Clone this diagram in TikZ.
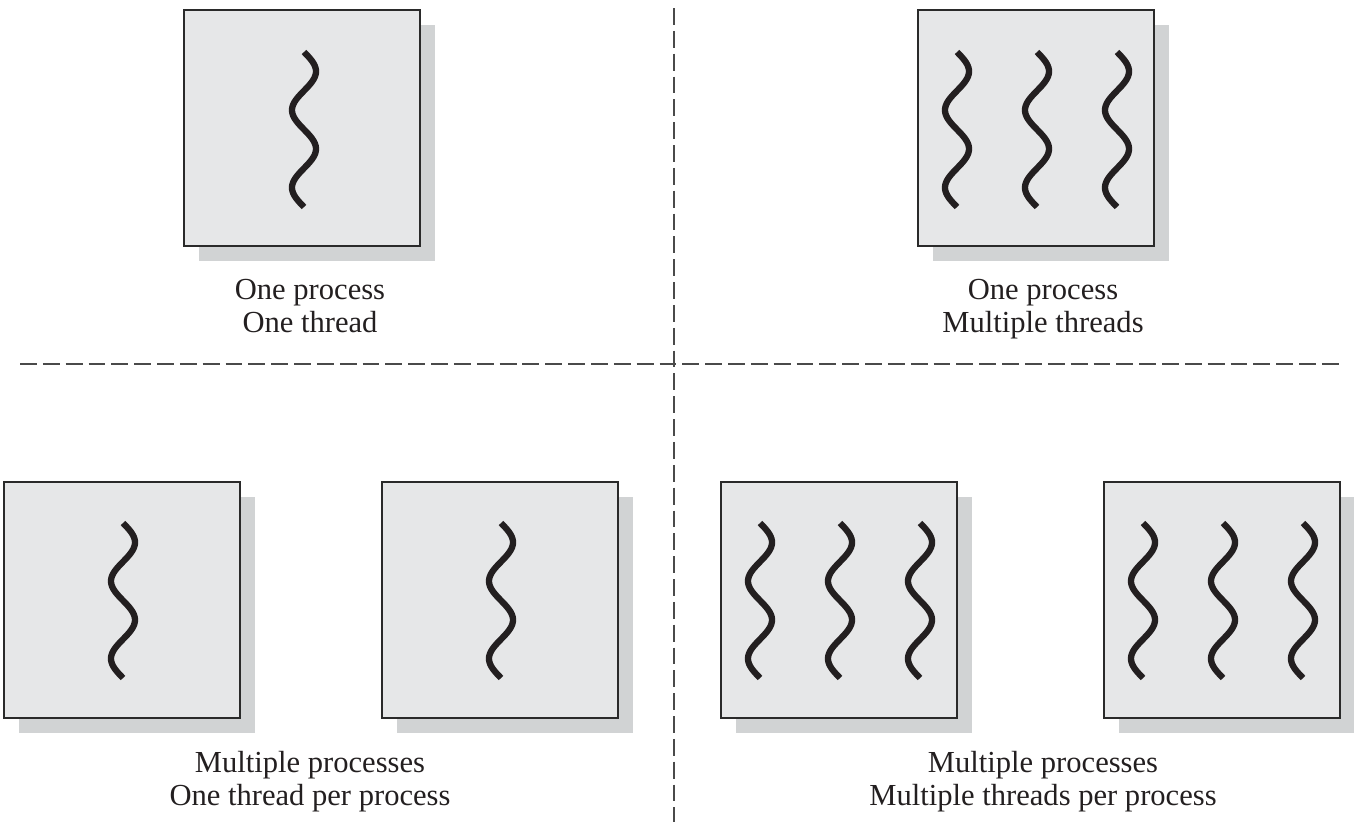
\documentclass[tikz,border=0pt]{standalone}
\usepackage{fontspec}
\setmainfont{Liberation Serif}
\definecolor{boxfill}{HTML}{E6E7E8}
\definecolor{shadowgray}{HTML}{D1D3D4}
\definecolor{boxedge}{HTML}{2A2A2A}
\definecolor{threadink}{HTML}{231F20}
\definecolor{divgray}{HTML}{4A4A4A}
\definecolor{textink}{HTML}{231F20}

% a process: drop shadow plus a square node
\newcommand\procat[3]{%
  \fill[shadowgray] (#2+16,#3+16) rectangle ++(236,236);
  \node[procbox, anchor=north west] (#1) at (#2,#3) {};}
% a thread: two periods of a sine wave running downwards
\newcommand\threadat[2]{%
  \draw[threadline] plot[domain=0:155, samples=90, smooth, variable=\t]
    ({#1+12*sin(\t/77.5*360)}, {#2+\t});}

\begin{document}
\begin{tikzpicture}[x=0.02cm, y=-0.02cm,
  procbox/.style={draw=boxedge, line width=0.9pt, fill=boxfill,
    minimum width=4.72cm, minimum height=4.72cm, inner sep=0pt},
  threadline/.style={draw=threadink, line width=3.6pt},
  divider/.style={draw=divgray, line width=0.7pt, dash pattern=on 9.6pt off 3.4pt},
  caption/.style={font=\fontsize{17.4}{20}\selectfont, inner sep=0pt, anchor=base, text=textink}]

\useasboundingbox (0,0) rectangle (1354,822);

% dividing lines between the four cases
\coordinate (hl) at (20,364);
\coordinate (hr) at (1340,364);
\coordinate (vt) at (674,8);
\coordinate (vb) at (674,822);
\draw[divider] (hl) -- (hr);
\draw[divider] (vt) -- (vb);

% one process, one thread
\procat{pa}{183}{9}
\threadat{304}{52}
\node[caption] (la1) at (310,299) {One process};
\node[caption] (la2) at (310,332) {One thread};

% one process, multiple threads
\procat{pb}{917}{9}
\threadat{957}{52}
\threadat{1037}{52}
\threadat{1117}{52}
\node[caption] (lb1) at (1043,299) {One process};
\node[caption] (lb2) at (1043,332) {Multiple threads};

% multiple processes, one thread each
\procat{pc}{3}{481}
\threadat{123}{523}
\procat{pd}{381}{481}
\threadat{501}{523}
\node[caption] (lc1) at (310,772) {Multiple processes};
\node[caption] (lc2) at (310,805) {One thread per process};

% multiple processes, multiple threads each
\procat{pe}{720}{481}
\threadat{760}{523}
\threadat{840}{523}
\threadat{920}{523}
\procat{pf}{1103}{481}
\threadat{1143}{523}
\threadat{1223}{523}
\threadat{1303}{523}
\node[caption] (ld1) at (1043,772) {Multiple processes};
\node[caption] (ld2) at (1043,805) {Multiple threads per process};

\end{tikzpicture}
\end{document}
